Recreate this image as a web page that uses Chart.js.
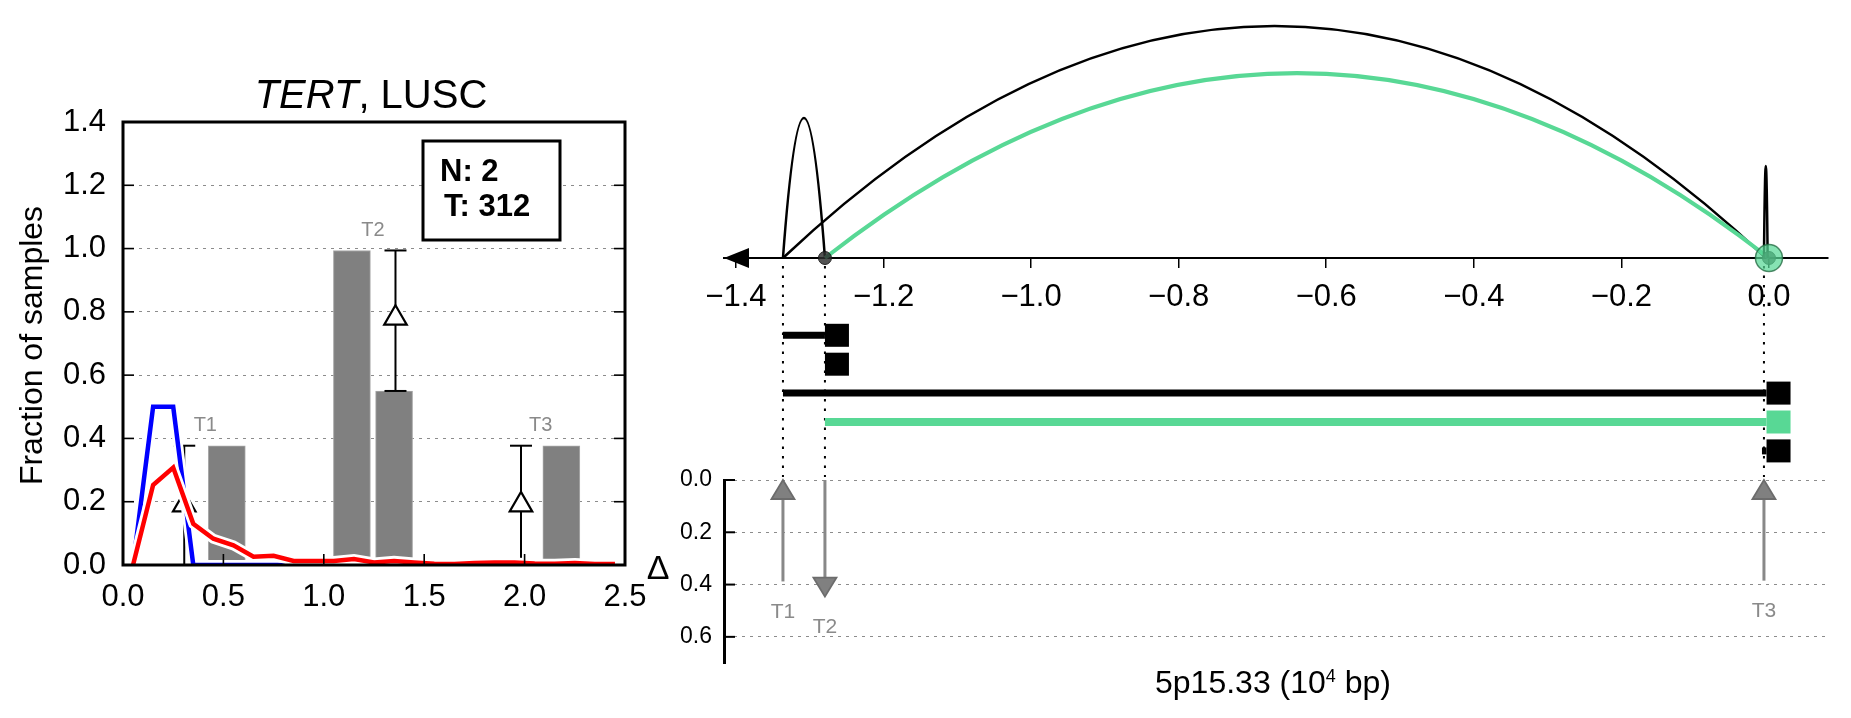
<!DOCTYPE html>
<html><head><meta charset="utf-8">
<script src="https://cdn.jsdelivr.net/npm/chart.js@4.4.0/dist/chart.umd.min.js"></script>
<style>
html,body{margin:0;padding:0;background:#fff;}
#wrap{position:relative;width:1851px;height:718px;overflow:hidden;background:#fff;}
canvas{position:absolute;}
#cA{left:0;top:0;width:660px;height:718px;}
#cB{left:640px;top:0;width:1211px;height:480px;}
#cC{left:640px;top:440px;width:1211px;height:278px;}
</style></head><body>
<div id="wrap">
<canvas id="cA" width="660" height="718"></canvas>
<canvas id="cB" width="1211" height="480"></canvas>
<canvas id="cC" width="1211" height="278"></canvas>
</div>
<script>
// ---------------- DATA ----------------
// Left panel
const leftXTicks = [0.0, 0.5, 1.0, 1.5, 2.0, 2.5];
const leftYTicks = [0.0, 0.2, 0.4, 0.6, 0.8, 1.0, 1.2, 1.4];
const binCenters = [0.05,0.15,0.25,0.35,0.45,0.55,0.65,0.75,0.85,0.95,1.05,1.15,1.25,1.35,1.45,1.55,1.65,1.75,1.85,1.95,2.05,2.15,2.25,2.35,2.45];
const normalFrac = [0,0.5,0.5,0,0,0,0,0,0,0,0,0,0,0,0,0,0,0,0,0,0,0,0,0,0];
const tumorFrac  = [0,0.253,0.308,0.13,0.083,0.062,0.026,0.029,0.013,0.013,0.013,0.019,0.008,0.013,0.008,0.004,0.003,0.006,0.008,0.008,0.005,0.004,0.006,0.003,0.003];
const barCenters = [0.517, 1.14, 1.35, 2.183];
const barHeights = [0.377, 0.994, 0.55, 0.377];
const errX    = [0.305, 1.357, 1.982];
const errLow  = [0.0, 0.55, 0.0];
const errHigh = [0.377, 0.994, 0.377];
const errMark = [0.19, 0.78, 0.19];
const eventNames  = ['T1', 'T2', 'T3'];
const eventLabelX = [0.41, 1.245, 2.08];
const eventLabelY = [0.377, 0.994, 0.377];
const countLines  = ['N: 2', 'T: 312'];
const titleItalic = 'TERT';
const titleRest   = ', LUSC';

// Right panel (position in 10^4 bp)
const posTicks = [-1.4, -1.2, -1.0, -0.8, -0.6, -0.4, -0.2, 0.0];
const posMin = -1.4162, posMax = 0.080;
const T1 = -1.3363, T2 = -1.2794, T3 = -0.0068, BP = 0.0;
const arcFrom   = [T1, T1, T2, T3];
const arcTo     = [T2, -0.004, BP, -0.0018];
const arcHeight = [0.588, 0.975, 0.777, 0.387];
const arcKind   = ['normal', 'normal', 'tumor', 'normal'];
const normalBP  = [T2, BP];
const tumorBP   = [BP];
const eventPos  = [T1, T2, T3];
const trackRow  = [0, 2, 3, 4];
const trackFrom = [T1, T1, T2, -0.0095];
const trackTo   = [T2, -0.0033, -0.0033, -0.0033];
const trackKind = ['normal', 'normal', 'tumor', 'normal'];
const squareRow  = [0, 1, 2, 3, 4];
const squareAt   = [T2, T2, -0.0033, -0.0033, -0.0033];
const squareKind = ['normal', 'normal', 'normal', 'tumor', 'normal'];
const deltaTicks = [0.0, 0.2, 0.4, 0.6];
const arrowFrom = [0.388, 0.0, 0.385];
const arrowTo   = [0.0, 0.446, 0.0];
const xLabelMain = '5p15.33 (10', xLabelSup = '4', xLabelEnd = ' bp)';

// ---------------- STYLE ----------------
const FONT = "'Liberation Sans', Arial, Helvetica, sans-serif";
const GREEN = '#58d895';
const kindStyle = { normal: {color: '#000', arc: 2.5, track: 7}, tumor: {color: GREEN, arc: 4, track: 8} };
Chart.defaults.font.family = FONT;
Chart.defaults.color = '#000';
function seg(ctx, x1, y1, x2, y2){ ctx.beginPath(); ctx.moveTo(x1, y1); ctx.lineTo(x2, y2); ctx.stroke(); }
const fixTicks = arr => s => { s.ticks = arr.map(v => ({value: v})); };

// ---------------- LEFT CHART ----------------
const leftDecor = {
  id: 'leftDecor',
  afterDraw(chart){
    const {ctx, chartArea: a, scales: {x, y}} = chart;
    ctx.save();
    ctx.strokeStyle = '#000';
    ctx.lineWidth = 1.6;
    leftYTicks.slice(1, -1).forEach(v => { const py = y.getPixelForValue(v); seg(ctx, a.left, py, a.left + 11, py); seg(ctx, a.right - 11, py, a.right, py); });
    leftXTicks.slice(1, -1).forEach(v => { const px = x.getPixelForValue(v); seg(ctx, px, a.bottom, px, a.bottom - 11); });
    ctx.lineWidth = 3;
    ctx.strokeRect(a.left, a.top, a.right - a.left, a.bottom - a.top);
    // title
    ctx.fillStyle = '#000';
    ctx.textBaseline = 'alphabetic';
    ctx.font = `italic 40px ${FONT}`; const w1 = ctx.measureText(titleItalic).width;
    ctx.font = `40px ${FONT}`; const w2 = ctx.measureText(titleRest).width;
    const cx = (a.left + a.right) / 2 - 3, sx = cx - (w1 + w2) / 2;
    ctx.font = `italic 40px ${FONT}`; ctx.textAlign = 'left'; ctx.fillText(titleItalic, sx, a.top - 14);
    ctx.font = `40px ${FONT}`; ctx.fillText(titleRest, sx + w1, a.top - 14);
    // y label
    ctx.save();
    ctx.translate(33, (a.top + a.bottom) / 2 + 2);
    ctx.rotate(-Math.PI / 2);
    ctx.font = `32px ${FONT}`; ctx.textAlign = 'center'; ctx.textBaseline = 'middle';
    ctx.fillText('Fraction of samples', 0, 0);
    ctx.restore();
    // counts box
    ctx.fillStyle = '#fff';
    ctx.fillRect(423, 141, 137, 99);
    ctx.lineWidth = 3; ctx.strokeStyle = '#000';
    ctx.strokeRect(423, 141, 137, 99);
    ctx.fillStyle = '#000'; ctx.font = `bold 31px ${FONT}`; ctx.textAlign = 'left'; ctx.textBaseline = 'alphabetic';
    ctx.fillText(countLines[0], 440, 181);
    ctx.fillText(countLines[1], 444, 216);
    // event labels
    ctx.fillStyle = '#8a8a8a'; ctx.font = `20px ${FONT}`; ctx.textAlign = 'center'; ctx.textBaseline = 'middle';
    eventNames.forEach((n, i) => ctx.fillText(n, x.getPixelForValue(eventLabelX[i]), y.getPixelForValue(eventLabelY[i]) - 20));
    ctx.restore();
  }
};

const xy = (xs, ys) => xs.map((v, i) => ({x: v, y: ys[i]}));
new Chart(document.getElementById('cA'), {
  type: 'scatter',
  data: { datasets: [
    {type: 'bar', data: xy(barCenters, barHeights), backgroundColor: '#808080', borderColor: '#a8a8a8', borderWidth: 1, barThickness: 37, order: 60},
    ...errX.map((ex, i) => ({type: 'line', data: [{x: ex, y: errLow[i]}, {x: ex, y: errHigh[i]}], borderColor: '#000', borderWidth: 2,
      pointStyle: 'line', pointRadius: 11, pointBorderWidth: 2, pointBorderColor: '#000', pointHoverRadius: 11, order: 50, clip: false})),
    {type: 'scatter', data: xy(errX, errMark), pointStyle: 'triangle', pointRadius: 13, pointBackgroundColor: '#fff', pointBorderColor: '#000', pointBorderWidth: 2.2, order: 40},
    {type: 'line', data: xy(binCenters, normalFrac), borderColor: '#fff', borderWidth: 10, pointRadius: 0, tension: 0, order: 35},
    {type: 'line', data: xy(binCenters, normalFrac), borderColor: '#0000ff', borderWidth: 4.5, pointRadius: 0, tension: 0, order: 30},
    {type: 'line', data: xy(binCenters, tumorFrac), borderColor: '#fff', borderWidth: 10, pointRadius: 0, tension: 0, order: 25},
    {type: 'line', data: xy(binCenters, tumorFrac), borderColor: '#ff0000', borderWidth: 4.5, pointRadius: 0, tension: 0, order: 20}
  ]},
  options: {
    responsive: false, animation: false, events: [],
    layout: {padding: {left: 0, right: 35, top: 122, bottom: 103}},
    plugins: {legend: {display: false}, tooltip: {enabled: false}},
    scales: {
      x: {type: 'linear', min: 0, max: 2.5, offset: false, afterBuildTicks: fixTicks(leftXTicks), afterFit: s => { s.height = 50; },
        grid: {display: false}, border: {display: false},
        ticks: {font: {size: 31}, color: '#000', padding: 6, maxRotation: 0, autoSkip: false, callback: v => v.toFixed(1)}},
      y: {type: 'linear', min: 0, max: 1.4, afterBuildTicks: fixTicks(leftYTicks), afterFit: s => { s.width = 123; },
        grid: {drawTicks: false, lineWidth: 1, color: c => (c.index === 0 || c.index === leftYTicks.length - 1) ? 'rgba(0,0,0,0)' : '#8c8c8c'},
        border: {display: false, dash: [3, 5]},
        ticks: {font: {size: 31}, color: '#000', padding: 17, autoSkip: false, callback: v => v.toFixed(1)}}
    }
  },
  plugins: [leftDecor]
});

// ---------------- TOP RIGHT CHART ----------------
const ROW0 = 335.3, ROWSTEP = 28.9, SQW = 24, SQH = 23;
const topDecor = {
  id: 'topDecor',
  beforeDatasetsDraw(chart){
    const {ctx, scales: {x, y}} = chart;
    ctx.save();
    const base = y.getPixelForValue(0);
    arcFrom.forEach((f, i) => {
      const st = kindStyle[arcKind[i]];
      const x0 = x.getPixelForValue(f), x1 = x.getPixelForValue(arcTo[i]);
      const cy = y.getPixelForValue(2 * arcHeight[i]);
      ctx.strokeStyle = st.color; ctx.lineWidth = st.arc;
      ctx.beginPath(); ctx.moveTo(x0, base); ctx.quadraticCurveTo((x0 + x1) / 2, cy, x1, base); ctx.stroke();
    });
    ctx.strokeStyle = '#000'; ctx.lineWidth = 2; ctx.setLineDash([2.5, 7]);
    eventPos.forEach(p => { const px = x.getPixelForValue(p); seg(ctx, px, base + 8, px, 477); });
    ctx.restore();
  },
  afterDraw(chart){
    const {ctx, scales: {x, y}} = chart;
    ctx.save();
    const base = y.getPixelForValue(0);
    // arrow head at the left end of the axis
    const tip = x.getPixelForValue(posMin);
    ctx.fillStyle = '#000';
    ctx.beginPath(); ctx.moveTo(tip, base); ctx.lineTo(tip + 25, base - 10); ctx.lineTo(tip + 25, base + 10); ctx.closePath(); ctx.fill();
    // tracks
    trackRow.forEach((r, i) => {
      const st = kindStyle[trackKind[i]];
      const yy = ROW0 + r * ROWSTEP;
      ctx.strokeStyle = st.color; ctx.lineWidth = st.track;
      seg(ctx, x.getPixelForValue(trackFrom[i]), yy, x.getPixelForValue(trackTo[i]), yy);
    });
    squareRow.forEach((r, i) => {
      const yy = ROW0 + r * ROWSTEP;
      ctx.fillStyle = kindStyle[squareKind[i]].color;
      ctx.fillRect(x.getPixelForValue(squareAt[i]), yy - SQH / 2, SQW, SQH);
    });
    ctx.restore();
  }
};
const fmtPos = v => (v < 0 ? '\u2212' : '') + Math.abs(v).toFixed(1);
new Chart(document.getElementById('cB'), {
  type: 'scatter',
  data: { datasets: [
    {data: normalBP.map(p => ({x: p, y: 0})), pointRadius: 6.5, pointBackgroundColor: 'rgba(45,45,45,0.82)', pointBorderColor: 'rgba(20,20,20,0.9)', pointBorderWidth: 1, clip: false, order: 3},
    {data: tumorBP.map(p => ({x: p, y: 0})), pointRadius: 13.5, pointBackgroundColor: 'rgba(88,216,149,0.72)', pointBorderColor: 'rgba(40,110,70,0.8)', pointBorderWidth: 1.5, clip: false, order: 2}
  ]},
  options: {
    responsive: false, animation: false, events: [],
    layout: {padding: {left: 84, right: 23, top: 20, bottom: 0}},
    plugins: {legend: {display: false}, tooltip: {enabled: false}},
    scales: {
      x: {type: 'linear', min: posMin, max: posMax, afterBuildTicks: fixTicks(posTicks), afterFit: s => { s.height = 222; },
        grid: {display: true, drawOnChartArea: false, drawTicks: true, tickLength: 10, color: '#000', lineWidth: 1.5},
        border: {display: true, color: '#000', width: 2},
        ticks: {font: {size: 31}, color: '#000', padding: 11, maxRotation: 0, autoSkip: false, callback: fmtPos}},
      y: {type: 'linear', display: false, min: 0, max: 1}
    }
  },
  plugins: [topDecor]
});

// ---------------- BOTTOM RIGHT CHART ----------------
const botDecor = {
  id: 'botDecor',
  afterDraw(chart){
    const {ctx, chartArea: a, scales: {x, y}} = chart;
    ctx.save();
    ctx.strokeStyle = '#000'; ctx.lineWidth = 2;
    deltaTicks.forEach(v => { const py = y.getPixelForValue(v); seg(ctx, a.left, py, a.left + 11, py); });
    // arrows
    eventPos.forEach((p, i) => {
      const px = x.getPixelForValue(p);
      const y0 = y.getPixelForValue(arrowFrom[i]), y1 = y.getPixelForValue(arrowTo[i]);
      const dir = Math.sign(y1 - y0), yb = y1 - dir * 19;
      ctx.strokeStyle = '#888'; ctx.lineWidth = 3;
      seg(ctx, px, y0, px, yb);
      ctx.beginPath(); ctx.moveTo(px, y1); ctx.lineTo(px - 11.5, yb); ctx.lineTo(px + 11.5, yb); ctx.closePath();
      ctx.fillStyle = '#808080'; ctx.fill(); ctx.strokeStyle = '#6c6c6c'; ctx.lineWidth = 1.8; ctx.stroke();
      ctx.fillStyle = '#8a8a8a'; ctx.font = `21px ${FONT}`; ctx.textAlign = 'center'; ctx.textBaseline = 'middle';
      ctx.fillText(eventNames[i], px, Math.max(y0, y1) + 31);
    });
    // y label
    ctx.fillStyle = '#000'; ctx.font = `34px ${FONT}`; ctx.textAlign = 'center'; ctx.textBaseline = 'middle';
    ctx.fillText('\u0394', 18, (a.top + a.bottom) / 2 - 2);
    // x label with superscript
    ctx.textBaseline = 'alphabetic'; ctx.textAlign = 'left';
    ctx.font = `32px ${FONT}`; const wm = ctx.measureText(xLabelMain).width, we = ctx.measureText(xLabelEnd).width;
    ctx.font = `18px ${FONT}`; const ws = ctx.measureText(xLabelSup).width;
    const total = wm + ws + we, sx = (a.left + a.right) / 2 - 3 - total / 2, by = a.bottom + 30;
    ctx.font = `32px ${FONT}`; ctx.fillText(xLabelMain, sx, by);
    ctx.font = `18px ${FONT}`; ctx.fillText(xLabelSup, sx + wm, by - 11);
    ctx.font = `32px ${FONT}`; ctx.fillText(xLabelEnd, sx + wm + ws, by);
    ctx.restore();
  }
};
new Chart(document.getElementById('cC'), {
  type: 'scatter',
  data: {datasets: []},
  options: {
    responsive: false, animation: false, events: [],
    layout: {padding: {left: 0, right: 23, top: 40, bottom: 55}},
    plugins: {legend: {display: false}, tooltip: {enabled: false}},
    scales: {
      x: {type: 'linear', display: false, min: posMin, max: posMax},
      y: {type: 'linear', reverse: true, min: 0, max: 0.7, afterBuildTicks: fixTicks(deltaTicks), afterFit: s => { s.width = 84; },
        grid: {drawTicks: false, color: '#8c8c8c', lineWidth: 1},
        border: {display: true, color: '#000', width: 3, dash: [3, 5]},
        ticks: {font: {size: 23}, color: '#000', padding: 12, autoSkip: false, callback: v => v.toFixed(1)}}
    }
  },
  plugins: [botDecor]
});
</script>
</body></html>
